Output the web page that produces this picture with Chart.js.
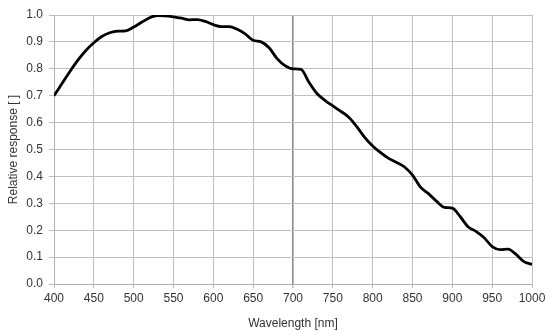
<!DOCTYPE html>
<html>
<head>
<meta charset="utf-8">
<script src="https://cdn.jsdelivr.net/npm/chart.js@4/dist/chart.umd.min.js"></script>
<style>
html,body{margin:0;padding:0;background:#fff;}
#wrap{width:554px;height:331px;}
</style>
</head>
<body>
<div id="wrap"><canvas id="c" width="554" height="331"></canvas></div>
<script>
const wavelengths = [400,410,420,430,440,450,460,470,480,490,500,510,520,530,540,550,560,570,580,590,600,610,620,630,640,650,660,670,680,690,700,710,720,730,740,750,760,770,780,790,800,810,820,830,840,850,860,870,880,890,900,910,920,930,940,950,960,970,980,990,1000];
const response = [0.700,0.745,0.790,0.832,0.868,0.897,0.920,0.934,0.940,0.941,0.955,0.973,0.990,0.998,0.997,0.993,0.988,0.982,0.983,0.976,0.964,0.957,0.957,0.947,0.930,0.906,0.900,0.878,0.838,0.812,0.800,0.798,0.750,0.708,0.683,0.662,0.642,0.620,0.585,0.545,0.513,0.488,0.467,0.452,0.435,0.405,0.360,0.336,0.308,0.285,0.282,0.250,0.212,0.195,0.172,0.139,0.128,0.130,0.110,0.083,0.073];
const xTitle = 'Wavelength [nm]';
const yTitle = 'Relative response [ ]';

const font = {family: '"Liberation Sans", Arial, sans-serif', size: 12};
new Chart(document.getElementById('c'), {
  type: 'line',
  data: {
    datasets: [{
      data: wavelengths.map((w, i) => ({x: w, y: response[i]})),
      borderColor: '#000',
      borderWidth: 2.8,
      pointRadius: 0,
      tension: 0.4,
      cubicInterpolationMode: 'monotone',
      fill: false
    }]
  },
  options: {
    responsive: false,
    animation: false,
    layout: {padding: {top: 15, right: 22, left: 0, bottom: 0}},
    plugins: {legend: {display: false}, tooltip: {enabled: false}},
    scales: {
      x: {
        type: 'linear', min: 400, max: 1000,
        ticks: {stepSize: 50, color: '#333', font: font, padding: 3, maxRotation: 0, callback: v => String(v)},
        grid: {
          color: ctx => ctx.tick && ctx.tick.value === 700 ? '#8c8c8c' : '#bfbfbf',
          lineWidth: ctx => ctx.tick && ctx.tick.value === 700 ? 1.6 : 1,
          tickLength: 4, tickColor: '#bfbfbf'
        },
        border: {color: '#b0b0b0'},
        title: {display: true, text: xTitle, color: '#333', font: font, padding: {top: 4, bottom: 0}},
        afterFit: s => { s.height = 47; }
      },
      y: {
        min: 0, max: 1,
        ticks: {stepSize: 0.1, color: '#333', font: font, padding: 6, callback: v => v.toFixed(1)},
        grid: {color: '#bfbfbf', tickLength: 5, tickColor: '#bfbfbf'},
        border: {color: '#b0b0b0'},
        title: {display: true, text: yTitle, color: '#333', font: font, padding: {top: 6, bottom: 0}},
        afterFit: s => { s.width = 54; }
      }
    }
  }
});
</script>
</body>
</html>
